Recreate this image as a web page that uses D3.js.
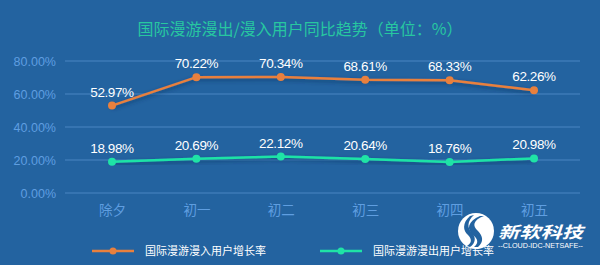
<!DOCTYPE html>
<html>
<head>
<meta charset="utf-8">
<script src="https://cdn.jsdelivr.net/npm/d3@7/dist/d3.min.js"></script>
<style>
  html, body { margin: 0; padding: 0; background: #2363a0; }
  svg { display: block; }
  text { font-family: "Liberation Sans", "Noto Sans CJK SC", sans-serif; }
</style>
</head>
<body>
<svg id="chart" width="600" height="265"></svg>
<script>
// Days of the Spring Festival holiday
const categories = ["除夕", "初一", "初二", "初三", "初四", "初五"];
// Year-on-year growth of inbound roaming users (%)
const inboundGrowth = [52.97, 70.22, 70.34, 68.61, 68.33, 62.26];
// Year-on-year growth of outbound roaming users (%)
const outboundGrowth = [18.98, 20.69, 22.12, 20.64, 18.76, 20.98];
const yTicks = [0, 20, 40, 60, 80];
const seriesNames = ["国际漫游漫入用户增长率", "国际漫游漫出用户增长率"];
const titleText = "国际漫游漫出/漫入用户同比趋势（单位：%）";

const svg = d3.select("#chart");
const W = 600, H = 265;
const cjk = '"Noto Sans CJK SC", sans-serif';

svg.append("rect").attr("width", W).attr("height", H).attr("fill", "#2363a0");

const defs = svg.append("defs");
const glow = defs.append("filter").attr("id", "shadow")
  .attr("x", "-10%").attr("y", "-50%").attr("width", "120%").attr("height", "200%");
glow.append("feDropShadow").attr("dx", 0).attr("dy", 2).attr("stdDeviation", 2)
  .attr("flood-color", "#0a2c55").attr("flood-opacity", 0.6);

// Title
svg.append("text")
  .attr("x", 300).attr("y", 35)
  .attr("text-anchor", "middle")
  .attr("fill", "#27c7a0")
  .style("font-family", cjk)
  .style("font-size", "16px")
  .text(titleText);

const x = d3.scalePoint().domain(categories).range([112, 534]);
const y = d3.scaleLinear().domain([0, 80]).range([193, 61]);

// Horizontal grid lines
svg.append("g").selectAll("line").data(yTicks).join("line")
  .attr("x1", 65).attr("x2", 580)
  .attr("y1", d => y(d)).attr("y2", d => y(d))
  .attr("stroke", "#4a86c2").attr("stroke-width", 1);

// Y axis
const yAxis = svg.append("g").attr("transform", "translate(60,0)")
  .call(d3.axisLeft(y).tickValues(yTicks).tickSize(0).tickPadding(4)
    .tickFormat(d => d3.format(".2f")(d) + "%"));
yAxis.select(".domain").remove();
yAxis.selectAll("text").attr("fill", "#5f9ee0").style("font-size", "12.5px")
  .style("font-family", '"Liberation Sans", sans-serif');

// X axis
const xAxis = svg.append("g").attr("transform", "translate(0,193)")
  .call(d3.axisBottom(x).tickSize(0).tickPadding(12));
xAxis.select(".domain").remove();
xAxis.selectAll("text").attr("fill", "#5f9ee0").style("font-size", "13.5px")
  .style("font-family", cjk);

const series = [
  { name: seriesNames[0], values: inboundGrowth, color: "#e8803e" },
  { name: seriesNames[1], values: outboundGrowth, color: "#1fe3a6" }
];

const line = d3.line().x((d, i) => x(categories[i])).y(d => y(d));

series.forEach(s => {
  const g = svg.append("g");
  g.append("path").datum(s.values)
    .attr("d", line)
    .attr("fill", "none")
    .attr("stroke", s.color)
    .attr("stroke-width", 2.5)
    .attr("filter", "url(#shadow)");
  g.selectAll("circle").data(s.values).join("circle")
    .attr("cx", (d, i) => x(categories[i]))
    .attr("cy", d => y(d))
    .attr("r", 4)
    .attr("fill", s.color);
  g.selectAll("text").data(s.values).join("text")
    .attr("x", (d, i) => x(categories[i]))
    .attr("y", d => y(d) - 9)
    .attr("text-anchor", "middle")
    .attr("fill", "#ffffff")
    .style("font-size", "13.5px")
    .style("letter-spacing", "-0.4px")
    .text(d => d3.format(".2f")(d) + "%");
});

// Legend
const legendX = [92, 320];
series.forEach((s, i) => {
  const g = svg.append("g").attr("transform", `translate(${legendX[i]},251)`);
  g.append("line").attr("x1", 0).attr("x2", 42).attr("y1", 0).attr("y2", 0)
    .attr("stroke", s.color).attr("stroke-width", 2.5);
  g.append("circle").attr("cx", 21).attr("cy", 0).attr("r", 3.5).attr("fill", s.color);
  g.append("text").attr("x", 53).attr("y", 4)
    .attr("fill", "#ffffff")
    .style("font-family", cjk)
    .style("font-size", "11px")
    .text(s.name);
});

// Company logo
const logo = svg.append("g").attr("transform", "translate(476,231)");
logo.append("circle").attr("r", 18).attr("fill", "#ffffff");
logo.append("path")
  .attr("d", "M4,-15 C-8,-10 -10,-2 -3,4 C2,8 3,12 -2,16 L2,16 C8,11 7,5 2,0 C-4,-5 -3,-11 8,-15 Z")
  .attr("fill", "#2363a0");
logo.append("path")
  .attr("d", "M-6,-15 C-14,-8 -13,0 -8,4 C-4,8 -4,12 -9,15 L-6,16 C0,12 0,6 -4,2 C-9,-3 -9,-10 -2,-16 Z")
  .attr("fill", "#2363a0");
svg.append("text")
  .attr("x", 498).attr("y", 238)
  .attr("textLength", 85).attr("lengthAdjust", "spacingAndGlyphs")
  .attr("fill", "#ffffff")
  .style("font-family", cjk)
  .style("font-size", "16px")
  .style("font-weight", "bold")
  .style("font-style", "italic")
  .text("新软科技");
svg.append("text")
  .attr("x", 498).attr("y", 248)
  .attr("textLength", 85).attr("lengthAdjust", "spacingAndGlyphs")
  .attr("fill", "#ffffff")
  .style("font-size", "6.5px")
  .text("--CLOUD-IDC-NETSAFE--");
</script>
</body>
</html>
